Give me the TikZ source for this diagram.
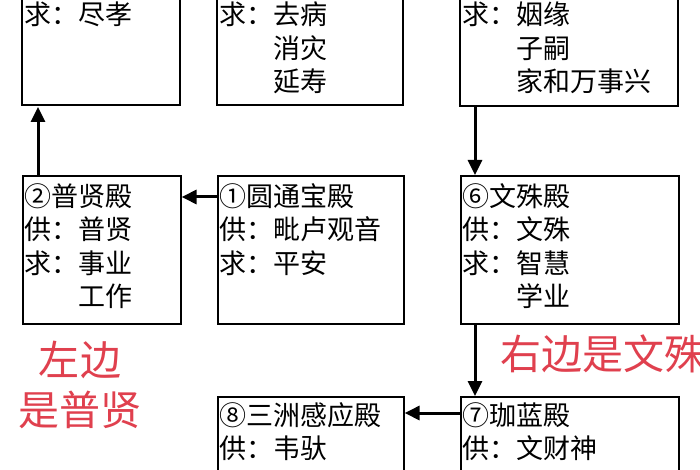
\documentclass[tikz,border=0pt]{standalone}
\usepackage{fontspec}
\setmainfont{Noto Sans CJK SC}
\usetikzlibrary{calc, arrows.meta}
\newcommand{\pad}{\phantom{求：}}
\definecolor{noteRed}{HTML}{E0404E}

\begin{document}
\begin{tikzpicture}[x=1pt, y=-1pt,
  hall/.style={rectangle, draw=black, line width=1.6pt, inner sep=0pt},
  %
  words/.style={anchor=north west, inner sep=0pt, align=left,
    font=\fontsize{27}{33.5}\selectfont},
  %
  note/.style={text=noteRed, inner sep=0pt, align=center,
    font=\fontsize{41}{50}\selectfont},
  %
  flow/.style={-{Triangle[length=15pt, width=14pt]}, line width=3pt}
  ]

  \useasboundingbox (0,0) rectangle (700,470);
  \clip (0,0) rectangle (700,470);
  \fill[white] (0,0) rectangle (700,470);

  %%%%%%%%%%%%%%%%%%%%%%%%%%%%%%% top row
  \draw [hall] (22,-40) coordinate (tlA) rectangle (180,105) coordinate (tlB);
  \draw [hall] (217,-40) rectangle (403,105);
  \draw [hall] (460,-40) rectangle (678,106) coordinate (trB);
  \node [words] (tlText) at (24,2) {求：尽孝};
  \node [words] (tmText) at (219,2) {求：去病\\\pad 消灾\\\pad 延寿};
  \node [words] (trText) at (462,2) {求：姻缘\\\pad 子嗣\\\pad 家和万事兴};

  %%%%%%%%%%%%%%%%%%%%%%%%%%%%%%% middle row
  \node [hall, minimum width=158, minimum height=148, anchor=north west]
    (puxian) at (22,175) {};
  \node [hall, minimum width=186, minimum height=148, anchor=north west]
    (yuantong) at (217,175) {};
  \node [hall, minimum width=218, minimum height=148, anchor=north west]
    (wenshu) at (460,175) {};
  \node [words] at ($(puxian.north west)+(2,8)$)
    {②普贤殿\\供：普贤\\求：事业\\\pad 工作};
  \node [words] at ($(yuantong.north west)+(2,8)$)
    {①圆通宝殿\\供：毗卢观音\\求：平安};
  \node [words] at ($(wenshu.north west)+(2,8)$)
    {⑥文殊殿\\供：文殊\\求：智慧\\\pad 学业};

  %%%%%%%%%%%%%%%%%%%%%%%%%%%%%%% bottom row
  \node [hall, minimum width=186, minimum height=120, anchor=north west]
    (sanzhou) at (217,396) {};
  \node [hall, minimum width=218, minimum height=120, anchor=north west]
    (qielan) at (460,396) {};
  \node [words] at ($(sanzhou.north west)+(2,6)$) {⑧三洲感应殿\\供：韦驮};
  \node [words] at ($(qielan.north west)+(2,6)$) {⑦珈蓝殿\\供：文财神};

  %%%%%%%%%%%%%%%%%%%%%%%%%%%%%%% notes
  \node [note] (left) at (80,385) {左边\\是普贤};
  \node [note, anchor=west] (right) at (500,354) {右边是文殊};

  %%%%%%%%%%%%%%%%%%%%%%%%%%%%%%% arrows
  \draw [flow] ($(puxian.north west)+(16,0)$) -- ($(puxian.north west)+(16,-68)$);
  \draw [flow] ($(yuantong.north west)+(0,22)$) -- ($(puxian.north east)+(0,22)$);
  \draw [flow] ($(trB)+(-203,0)$) -- ($(wenshu.north west)+(15,0)$);
  \draw [flow] ($(wenshu.south west)+(15,0)$) -- ($(qielan.north west)+(15,0)$);
  \draw [flow] ($(qielan.north west)+(0,17)$) -- ($(sanzhou.north east)+(0,17)$);
\end{tikzpicture}
\end{document}
